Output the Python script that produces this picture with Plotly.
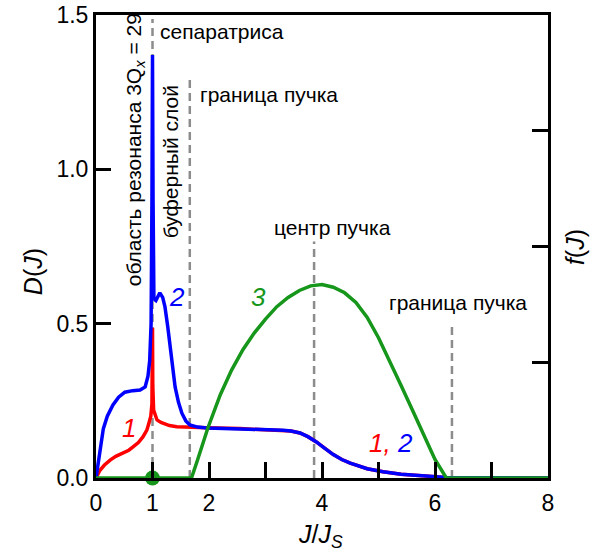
import plotly.graph_objects as go

# ---- data ----
blue_J = [0, 0.05, 0.13, 0.2, 0.3, 0.4, 0.51, 0.65, 0.78, 0.87, 0.92, 0.95, 0.975, 0.99, 1.0, 1.01,
          1.025, 1.06, 1.13, 1.18, 1.22, 1.27, 1.31, 1.36, 1.40, 1.46, 1.52, 1.59, 1.66, 1.8, 1.96,
          2.55, 3.0, 3.31, 3.45, 3.61, 3.75, 3.9, 4.05, 4.2, 4.35, 4.5, 4.8, 5.08, 5.4, 5.68, 6.2, 8.0]
blue_D = [0, 0.07, 0.16, 0.2, 0.237, 0.262, 0.278, 0.283, 0.285, 0.295, 0.33, 0.38, 0.5, 0.9, 1.37, 0.9,
          0.58, 0.575, 0.60, 0.585, 0.555, 0.49, 0.425, 0.35, 0.295, 0.245, 0.21, 0.185, 0.172, 0.165, 0.162,
          0.159, 0.157, 0.155, 0.152, 0.146, 0.134, 0.117, 0.096, 0.076, 0.06, 0.048, 0.03, 0.02, 0.012,
          0.008, 0.002, 0.0]

red_J = [0, 0.07, 0.15, 0.25, 0.35, 0.48, 0.58, 0.65, 0.75, 0.83, 0.9, 0.94, 0.97, 0.99, 0.995, 1.0,
         1.005, 1.02, 1.05, 1.08, 1.15, 1.22, 1.3, 1.43, 1.66, 1.96, 2.55, 3.0, 3.31, 3.45, 3.61, 3.75,
         3.9, 4.05, 4.2, 4.35, 4.5, 4.8, 5.08, 5.4, 5.68, 6.2, 8.0]
red_D = [0, 0.025, 0.042, 0.058, 0.07, 0.08, 0.09, 0.1, 0.115, 0.133, 0.155, 0.18, 0.2, 0.24, 0.35, 0.487,
         0.3, 0.22, 0.2, 0.188, 0.18, 0.175, 0.17, 0.166, 0.164, 0.163, 0.16, 0.157, 0.155, 0.152, 0.146,
         0.134, 0.117, 0.096, 0.076, 0.06, 0.048, 0.03, 0.02, 0.012, 0.008, 0.002, 0.0]

green_J = [0, 1.69, 1.8, 1.98, 2.2, 2.4, 2.6, 2.8, 3.0, 3.2, 3.4, 3.6, 3.8, 4.0, 4.2, 4.4, 4.6, 4.8,
           5.0, 5.2, 5.4, 5.6, 5.8, 6.0, 6.2, 8.0]
green_f = [0, 0, 0.04, 0.108, 0.18, 0.233, 0.277, 0.313, 0.343, 0.37, 0.39, 0.405, 0.415, 0.418, 0.412,
           0.4, 0.379, 0.347, 0.303, 0.253, 0.2, 0.147, 0.093, 0.04, 0, 0]

vline_J = [1.0, 1.66, 3.86, 6.3]
vline_top = [1.487, 1.295, 0.766, 0.49]

x_tickvals = [0, 1, 2, 3, 4, 5, 6, 7, 8]
x_ticktext = ["0", "1", "2", "", "4", "", "6", "", "8"]
y_tickvals = [0.0, 0.5, 1.0, 1.5]

FONT = "Liberation Sans, Arial, sans-serif"
BLUE = "#0000ff"
RED = "#ff0000"
GREEN = "#16961a"
GRAY = "#8c8c8c"

fig = go.Figure()

for xv, top in zip(vline_J, vline_top):
    fig.add_trace(go.Scatter(x=[xv, xv], y=[0, top], mode="lines",
                             line=dict(color=GRAY, width=2.5, dash="8px,5px"),
                             hoverinfo="skip", showlegend=False))

fig.add_trace(go.Scatter(x=green_J, y=green_f, mode="lines", yaxis="y2",
                         line=dict(color=GREEN, width=3.5), showlegend=False))
fig.add_trace(go.Scatter(x=red_J, y=red_D, mode="lines",
                         line=dict(color=RED, width=3.5), showlegend=False))
fig.add_trace(go.Scatter(x=blue_J, y=blue_D, mode="lines",
                         line=dict(color=BLUE, width=3.5), showlegend=False))
fig.add_trace(go.Scatter(x=[1.0], y=[0.0], mode="markers", cliponaxis=False,
                         marker=dict(color=GREEN, size=15), showlegend=False))

ann_font = dict(family=FONT, size=21, color="black")
num_font = dict(family=FONT, size=26)
title_font = dict(family=FONT, size=25, color="black")

annotations = [
    dict(x=1.1, y=1.445, text="сепаратриса", xanchor="left", font=ann_font),
    dict(x=1.8, y=1.243, text="граница пучка", xanchor="left", font=ann_font),
    dict(x=4.19, y=0.812, text="центр пучка", font=ann_font),
    dict(x=6.41, y=0.568, text="граница пучка", font=ann_font),
    dict(x=0.69, y=1.065, text="область резонанса 3Q<sub><i>x</i></sub> = 29", textangle=-90, font=ann_font),
    dict(x=1.31, y=1.023, text="буферный слой", textangle=-90, font=ann_font),
    dict(x=0.58, y=0.162, text="<i>1</i>", font=dict(num_font, color=RED)),
    dict(x=1.43, y=0.588, text="<i>2</i>", font=dict(num_font, color=BLUE)),
    dict(x=2.87, y=0.588, text="<i>3</i>", font=dict(num_font, color=GREEN)),
    dict(x=5.22, y=0.114,
         text="<span style='color:#ff0000'><i>1,</i></span> <span style='color:#0000ff'><i>2</i></span>",
         font=num_font),
    # axis titles
    dict(xref="paper", yref="paper", x=-0.139, y=0.445, text="<i>D</i>(<i>J</i>)", textangle=-90,
         font=title_font),
    dict(xref="paper", yref="paper", x=1.06, y=0.499, text="<i>f</i>(<i>J</i>)", textangle=-90,
         font=title_font),
    dict(xref="paper", yref="paper", x=0.496, y=-0.125, text="<i>J</i>/<i>J</i><sub><i>S</i></sub>",
         font=title_font),
]
for a in annotations:
    a.setdefault("xref", "x")
    a.setdefault("yref", "y")
    a.setdefault("xanchor", "center")
    a.setdefault("yanchor", "middle")
    a["showarrow"] = False
fig.update_layout(annotations=annotations)

fig.update_layout(
    width=607, height=556,
    margin=dict(l=96, r=59, t=15, b=78, autoexpand=False),
    paper_bgcolor="white", plot_bgcolor="white",
    font=dict(family=FONT, size=23, color="black"),
    xaxis=dict(range=[0, 8], tickvals=x_tickvals, ticktext=x_ticktext,
               ticks="inside", ticklen=16, tickwidth=2.5, tickcolor="black",
               showline=True, linewidth=3, linecolor="black", mirror=True,
               showgrid=False, zeroline=False, ticklabelstandoff=2, automargin=False,
               tickfont=dict(size=23)),
    yaxis=dict(range=[0, 1.5], tickvals=y_tickvals, tickformat=".1f",
               ticks="inside", ticklen=15, tickwidth=2.5, tickcolor="black",
               showline=True, linewidth=3, linecolor="black", automargin=False,
               showgrid=False, zeroline=False, tickfont=dict(size=23)),
    yaxis2=dict(range=[0, 1], overlaying="y", side="right", dtick=0.25,
                ticks="inside", ticklen=16, tickwidth=2.5, tickcolor="black",
                showline=True, linewidth=3, linecolor="black", automargin=False,
                showticklabels=False, showgrid=False, zeroline=False),
)

fig.write_html("out.html")
